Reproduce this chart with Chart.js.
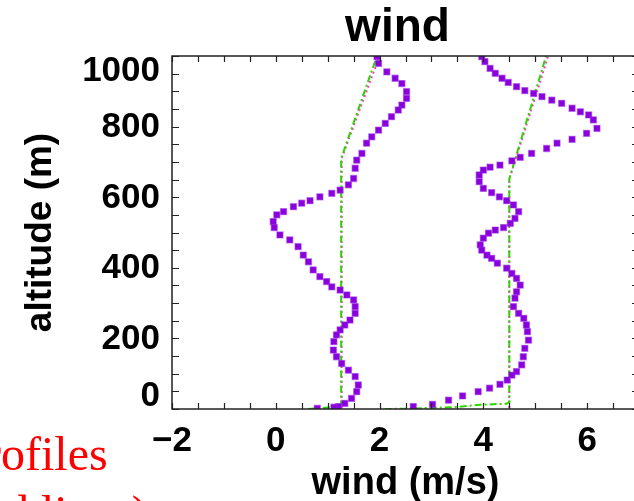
<!DOCTYPE html>
<html>
<head>
<meta charset="utf-8">
<script src="https://cdn.jsdelivr.net/npm/chart.js@4.4.1/dist/chart.umd.min.js"></script>
<style>
  html, body { margin: 0; padding: 0; background: #fff; width: 634px; height: 501px; overflow: hidden; }
  #wrap { position: relative; width: 634px; height: 501px; overflow: hidden; }
  canvas { position: absolute; left: 0; top: 0; }
  .note { position: absolute; font-family: "Liberation Serif", serif; font-size: 48px; line-height: 48px; color: #ff0000; white-space: nowrap; }
</style>
</head>
<body>
<div id="wrap">
  <canvas id="windChart" width="645" height="501"></canvas>
  <div class="note" style="left:-15px; top:430px;">rofiles</div>
  <div class="note" style="left:5px; top:489px;">d lines)</div>
</div>
<script>
// observed profiles (purple dots)
const leftObsAlt = [998, 979, 955, 937, 922, 899, 880, 861, 847, 828, 809, 790, 771, 753, 724, 705, 682, 653, 635, 620,
  611, 601, 590, 583, 573, 559, 550, 531, 514, 493, 479, 460, 436, 417, 394, 375, 361, 346, 337, 323,
  309, 290, 271, 252, 238, 224, 210, 191, 167, 148, 129, 110, 92, 68, 49, 30, 16, 7, 5, 2];
const leftObsWind = [1.95, 1.98, 2.14, 2.30, 2.43, 2.52, 2.52, 2.43, 2.36, 2.23, 2.11, 1.98, 1.85, 1.75, 1.66, 1.56, 1.53, 1.50, 1.40, 1.24,
  1.08, 0.85, 0.66, 0.50, 0.34, 0.15, 0.02, -0.05, -0.03, 0.08, 0.27, 0.43, 0.53, 0.63, 0.72, 0.85, 0.98, 1.08, 1.24, 1.37,
  1.50, 1.53, 1.53, 1.43, 1.33, 1.24, 1.17, 1.12, 1.11, 1.17, 1.27, 1.40, 1.53, 1.59, 1.56, 1.46, 1.33, 1.21, 1.12, 0.80];

const rightObsAlt = [998, 984, 965, 951, 937, 925, 913, 902, 894, 885, 875, 866, 852, 842, 833, 819, 795, 781, 764, 753,
  738, 724, 713, 703, 691, 685, 677, 663, 644, 625, 613, 601, 590, 578, 559, 540, 526, 514, 507, 498,
  484, 465, 450, 436, 427, 413, 399, 384, 370, 351, 332, 314, 290, 271, 257, 238, 219, 195, 172, 148,
  125, 106, 96, 82, 70, 59, 49, 37, 25, 13, 7];
const rightObsWind = [3.97, 4.03, 4.13, 4.23, 4.36, 4.48, 4.64, 4.80, 4.97, 5.13, 5.32, 5.51, 5.71, 5.87, 6.03, 6.12, 6.19, 5.99, 5.71, 5.42,
  5.22, 4.93, 4.71, 4.55, 4.32, 4.13, 4.00, 3.92, 3.92, 4.00, 4.16, 4.31, 4.45, 4.58, 4.68, 4.61, 4.52, 4.39, 4.23, 4.10,
  4.00, 3.94, 3.97, 4.07, 4.16, 4.27, 4.45, 4.55, 4.64, 4.71, 4.64, 4.61, 4.58, 4.68, 4.78, 4.83, 4.85, 4.87, 4.80, 4.77,
  4.74, 4.64, 4.55, 4.46, 4.32, 4.12, 3.90, 3.60, 3.33, 3.02, 2.65];

// model profiles (green dash-dot)
const leftModelAlt = [0, 3, 6, 10, 16, 710, 1000];
const leftModelWind = [0.62, 0.90, 1.10, 1.20, 1.26, 1.26, 1.95];
const rightModelAlt = [0, 1, 4, 6, 12, 15, 20, 652, 1000];
const rightModelWind = [2.10, 2.50, 3.20, 3.50, 3.95, 4.45, 4.50, 4.50, 5.21];

// reference profiles (magenta dotted)
const leftRefAlt = [3, 710, 1000];
const leftRefWind = [1.27, 1.27, 2.00];
const rightRefAlt = [3, 650, 1000];
const rightRefWind = [4.50, 4.50, 5.25];

const xTickLabels = [-2, 0, 2, 4, 6];
const yTickLabels = [0, 200, 400, 600, 800, 1000];

const FONT = '"Liberation Sans", Arial, sans-serif';

function toPoints(winds, alts) {
    return winds.map((w, i) => ({ x: w, y: alts[i] }));
}

// IDL style box: frame, inward ticks, y labels, title
const axisFrame = {
    id: 'axisFrame',
    afterDraw(chart) {
        const { ctx, chartArea: a, scales: { x, y } } = chart;
        ctx.save();
        ctx.strokeStyle = '#222';
        ctx.lineWidth = 1.5;
        ctx.strokeRect(a.left, a.top, a.right - a.left, a.bottom - a.top);

        ctx.lineWidth = 1.2;
        ctx.beginPath();
        for (let v = x.min; v <= x.max + 1e-6; v += 0.5) {
            const px = Math.round(x.getPixelForValue(v)) + 0.5;
            ctx.moveTo(px, a.bottom); ctx.lineTo(px, a.bottom - 6);
            ctx.moveTo(px, a.top); ctx.lineTo(px, a.top + 6);
        }
        for (let v = y.min; v <= y.max + 1e-6; v += 50) {
            const py = Math.round(y.getPixelForValue(v)) + 0.5;
            ctx.moveTo(a.left, py); ctx.lineTo(a.left + 7, py);
            ctx.moveTo(a.right, py); ctx.lineTo(a.right - 7, py);
        }
        ctx.stroke();

        ctx.fillStyle = '#000';
        ctx.font = 'bold 35px ' + FONT;
        ctx.textAlign = 'right';
        ctx.textBaseline = 'middle';
        yTickLabels.forEach(v => {
            let py = y.getPixelForValue(v);
            py = Math.min(Math.max(py, a.top + 14), a.bottom - 14);
            ctx.fillText(String(v), a.left - 12, py + 1);
        });

        // chart title, sits a little left of the box centre as in the original
        ctx.font = 'bold 46px ' + FONT;
        ctx.textAlign = 'center';
        ctx.fillText('wind', (a.left + a.right) / 2 - 8, 28);
        ctx.restore();
    }
};

const ctx = document.getElementById('windChart').getContext('2d');
const obsStyle = {
    showLine: false,
    pointStyle: 'rect',
    pointRadius: 4.3,
    pointBackgroundColor: '#8a00dc',
    pointBorderColor: 'rgba(150, 40, 230, 0.5)',
    pointBorderWidth: 1.2
};

new Chart(ctx, {
    type: 'scatter',
    data: {
        datasets: [
            { ...obsStyle, label: 'observed 1', data: toPoints(leftObsWind, leftObsAlt) },
            { ...obsStyle, label: 'observed 2', data: toPoints(rightObsWind, rightObsAlt) },
            { label: 'model 1', data: toPoints(leftModelWind, leftModelAlt), showLine: true, pointRadius: 0,
              borderColor: '#2ed400', borderWidth: 2, borderDash: [7, 3, 2, 3] },
            { label: 'model 2', data: toPoints(rightModelWind, rightModelAlt), showLine: true, pointRadius: 0,
              borderColor: '#2ed400', borderWidth: 2, borderDash: [7, 3, 2, 3] },
            { label: 'ref 1', data: toPoints(leftRefWind, leftRefAlt), showLine: true, pointRadius: 0,
              borderColor: '#ff3ccf', borderWidth: 2, borderDash: [2, 3] },
            { label: 'ref 2', data: toPoints(rightRefWind, rightRefAlt), showLine: true, pointRadius: 0,
              borderColor: '#ff3ccf', borderWidth: 2, borderDash: [2, 3] }
        ]
    },
    options: {
        responsive: false,
        animation: false,
        devicePixelRatio: 1,
        layout: { padding: { left: 0, right: 6, top: 56, bottom: 0 } },
        elements: { line: { tension: 0 } },
        plugins: {
            legend: { display: false },
            tooltip: { enabled: false },
            title: { display: false }
        },
        scales: {
            x: {
                type: 'linear',
                position: 'bottom',
                min: -2,
                max: 7,
                grid: { display: false, drawTicks: false },
                border: { display: false },
                afterFit: scale => { scale.height = 92; },
                afterBuildTicks: scale => { scale.ticks = xTickLabels.map(v => ({ value: v })); },
                ticks: {
                    autoSkip: false,
                    maxRotation: 0,
                    padding: 11,
                    color: '#000',
                    font: { family: FONT, size: 35, weight: 'bold' },
                    callback: v => (v < 0 ? '\u2212' + Math.abs(v) : String(v))
                },
                title: {
                    display: true,
                    text: 'wind (m/s)',
                    color: '#000',
                    font: { family: FONT, size: 38, weight: 'bold', lineHeight: 0.9 },
                    padding: { top: 0, bottom: 0 }
                }
            },
            y: {
                type: 'linear',
                min: 0,
                max: 1000,
                grid: { display: false, drawTicks: false },
                border: { display: false },
                afterFit: scale => { scale.width = 172; },
                ticks: { display: false },
                title: {
                    display: true,
                    text: 'altitude (m)',
                    color: '#000',
                    font: { family: FONT, size: 37, weight: 'bold' },
                    padding: { top: 19, bottom: 0 }
                }
            }
        }
    },
    plugins: [axisFrame]
});
</script>
</body>
</html>
